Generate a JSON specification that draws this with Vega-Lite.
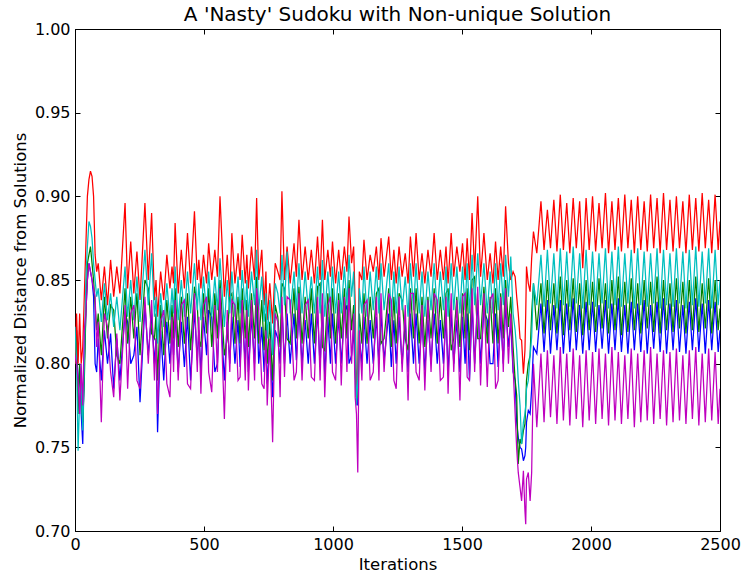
{
"$schema": "https://vega.github.io/schema/vega-lite/v6.json",
"width": 645, "height": 502,
"autosize": {"type": "none"},
"padding": {"left": 75, "top": 29, "right": 26, "bottom": 45},
"background": "white",
"title": {"text": "A 'Nasty' Sudoku with Non-unique Solution", "fontSize": 20, "font": "DejaVu Sans", "fontWeight": "normal", "color": "black", "offset": -4},
"config": {
  "view": {"stroke": "black", "strokeWidth": 1},
  "font": "DejaVu Sans",
  "axis": {"domainColor": "black", "tickColor": "black", "labelColor": "black", "titleColor": "black", "grid": false, "tickSize": -5, "labelPadding": 10, "labelFontSize": 16, "titleFontSize": 16.5, "titleFontWeight": "normal", "labelFlush": false, "font": "DejaVu Sans", "labelFont": "DejaVu Sans", "titleFont": "DejaVu Sans"}
},
"layer": [
{
"data": {"values": [
{"i":0,"b":0.8,"g":0.8,"r":0.8,"c":0.822,"m":0.805},
{"i":6,"b":0.82,"g":0.82,"r":0.83,"c":0.8,"m":0.8},
{"i":12,"b":0.78,"g":0.77,"r":0.8,"c":0.748,"m":0.79},
{"i":18,"b":0.8,"g":0.8,"r":0.83,"c":0.78,"m":0.77},
{"i":24,"b":0.77,"g":0.78,"r":0.8,"c":0.79,"m":0.8},
{"i":30,"b":0.752,"g":0.765,"r":0.81,"c":0.76,"m":0.775},
{"i":36,"b":0.8,"g":0.79,"r":0.84,"c":0.8,"m":0.82},
{"i":42,"b":0.83,"g":0.83,"r":0.87,"c":0.85,"m":0.83},
{"i":48,"b":0.85,"g":0.86,"r":0.9,"c":0.87,"m":0.85},
{"i":54,"b":0.86,"g":0.865,"r":0.91,"c":0.885,"m":0.86},
{"i":60,"b":0.855,"g":0.87,"r":0.915,"c":0.882,"m":0.855},
{"i":66,"b":0.85,"g":0.86,"r":0.912,"c":0.875,"m":0.85},
{"i":72,"b":0.84,"g":0.85,"r":0.9,"c":0.86,"m":0.845},
{"i":78,"b":0.8,"g":0.835,"r":0.865,"c":0.85,"m":0.84},
{"i":84,"b":0.795,"g":0.82,"r":0.855,"c":0.84,"m":0.81},
{"i":90,"b":0.815,"g":0.83,"r":0.86,"c":0.845,"m":0.825},
{"i":102,"b":0.79,"g":0.805,"r":0.838,"c":0.825,"m":0.765},
{"i":114,"b":0.82,"g":0.84,"r":0.858,"c":0.848,"m":0.83},
{"i":126,"b":0.8,"g":0.815,"r":0.835,"c":0.826,"m":0.822},
{"i":138,"b":0.818,"g":0.835,"r":0.862,"c":0.842,"m":0.795},
{"i":150,"b":0.785,"g":0.832,"r":0.84,"c":0.822,"m":0.78},
{"i":162,"b":0.815,"g":0.805,"r":0.858,"c":0.84,"m":0.818},
{"i":174,"b":0.79,"g":0.8,"r":0.842,"c":0.82,"m":0.778},
{"i":194,"b":0.83,"g":0.845,"r":0.896,"c":0.858,"m":0.835},
{"i":204,"b":0.825,"g":0.812,"r":0.845,"c":0.828,"m":0.785},
{"i":216,"b":0.8,"g":0.84,"r":0.873,"c":0.85,"m":0.83},
{"i":228,"b":0.805,"g":0.815,"r":0.842,"c":0.826,"m":0.835},
{"i":240,"b":0.822,"g":0.842,"r":0.867,"c":0.852,"m":0.79},
{"i":252,"b":0.777,"g":0.805,"r":0.838,"c":0.825,"m":0.785},
{"i":271,"b":0.835,"g":0.85,"r":0.896,"c":0.868,"m":0.84},
{"i":284,"b":0.805,"g":0.845,"r":0.85,"c":0.835,"m":0.8},
{"i":297,"b":0.83,"g":0.818,"r":0.89,"c":0.866,"m":0.838},
{"i":308,"b":0.8,"g":0.815,"r":0.838,"c":0.828,"m":0.79},
{"i":314,"b":0.815,"g":0.83,"r":0.85,"c":0.84,"m":0.815},
{"i":320,"b":0.759,"g":0.79,"r":0.828,"c":0.812,"m":0.77},
{"i":332,"b":0.82,"g":0.835,"r":0.855,"c":0.842,"m":0.825},
{"i":344,"b":0.79,"g":0.805,"r":0.838,"c":0.822,"m":0.832},
{"i":356,"b":0.825,"g":0.838,"r":0.865,"c":0.848,"m":0.788},
{"i":368,"b":0.8,"g":0.812,"r":0.845,"c":0.826,"m":0.78},
{"i":376,"b":0.82,"g":0.835,"r":0.858,"c":0.845,"m":0.828},
{"i":382,"b":0.805,"g":0.815,"r":0.848,"c":0.83,"m":0.795},
{"i":388,"b":0.83,"g":0.845,"r":0.884,"c":0.858,"m":0.838},
{"i":400,"b":0.795,"g":0.81,"r":0.842,"c":0.826,"m":0.79},
{"i":412,"b":0.825,"g":0.84,"r":0.868,"c":0.85,"m":0.835},
{"i":424,"b":0.798,"g":0.812,"r":0.845,"c":0.828,"m":0.838},
{"i":436,"b":0.828,"g":0.842,"r":0.878,"c":0.855,"m":0.788},
{"i":448,"b":0.79,"g":0.808,"r":0.848,"c":0.83,"m":0.785},
{"i":463,"b":0.832,"g":0.846,"r":0.891,"c":0.86,"m":0.842},
{"i":474,"b":0.802,"g":0.835,"r":0.85,"c":0.832,"m":0.795},
{"i":480,"b":0.82,"g":0.815,"r":0.862,"c":0.848,"m":0.828},
{"i":488,"b":0.795,"g":0.81,"r":0.845,"c":0.826,"m":0.782},
{"i":498,"b":0.828,"g":0.842,"r":0.865,"c":0.852,"m":0.835},
{"i":510,"b":0.805,"g":0.818,"r":0.848,"c":0.83,"m":0.84},
{"i":518,"b":0.832,"g":0.845,"r":0.872,"c":0.855,"m":0.795},
{"i":530,"b":0.828,"g":0.81,"r":0.85,"c":0.828,"m":0.783},
{"i":542,"b":0.795,"g":0.842,"r":0.868,"c":0.852,"m":0.835},
{"i":552,"b":0.8,"g":0.815,"r":0.852,"c":0.832,"m":0.795},
{"i":562,"b":0.838,"g":0.85,"r":0.9,"c":0.863,"m":0.845},
{"i":579,"b":0.79,"g":0.805,"r":0.84,"c":0.822,"m":0.767},
{"i":590,"b":0.825,"g":0.815,"r":0.865,"c":0.85,"m":0.832},
{"i":600,"b":0.8,"g":0.84,"r":0.84,"c":0.83,"m":0.795},
{"i":608,"b":0.828,"g":0.842,"r":0.878,"c":0.855,"m":0.838},
{"i":620,"b":0.8,"g":0.812,"r":0.848,"c":0.828,"m":0.835},
{"i":632,"b":0.826,"g":0.84,"r":0.866,"c":0.852,"m":0.79},
{"i":640,"b":0.798,"g":0.812,"r":0.85,"c":0.83,"m":0.792},
{"i":648,"b":0.83,"g":0.845,"r":0.877,"c":0.856,"m":0.838},
{"i":660,"b":0.8,"g":0.815,"r":0.848,"c":0.832,"m":0.79},
{"i":666,"b":0.825,"g":0.838,"r":0.865,"c":0.85,"m":0.832},
{"i":672,"b":0.795,"g":0.81,"r":0.845,"c":0.828,"m":0.784},
{"i":684,"b":0.828,"g":0.842,"r":0.87,"c":0.855,"m":0.838},
{"i":696,"b":0.8,"g":0.815,"r":0.85,"c":0.835,"m":0.79},
{"i":704,"b":0.84,"g":0.852,"r":0.899,"c":0.868,"m":0.845},
{"i":712,"b":0.8,"g":0.812,"r":0.85,"c":0.832,"m":0.832},
{"i":724,"b":0.822,"g":0.838,"r":0.868,"c":0.852,"m":0.788},
{"i":733,"b":0.795,"g":0.808,"r":0.835,"c":0.825,"m":0.785},
{"i":740,"b":0.815,"g":0.83,"r":0.855,"c":0.842,"m":0.82},
{"i":745,"b":0.788,"g":0.8,"r":0.826,"c":0.815,"m":0.775},
{"i":755,"b":0.812,"g":0.825,"r":0.848,"c":0.838,"m":0.815},
{"i":766,"b":0.78,"g":0.79,"r":0.824,"c":0.805,"m":0.753},
{"i":776,"b":0.82,"g":0.835,"r":0.86,"c":0.848,"m":0.83},
{"i":786,"b":0.815,"g":0.828,"r":0.855,"c":0.842,"m":0.825},
{"i":795,"b":0.8,"g":0.81,"r":0.85,"c":0.83,"m":0.78},
{"i":802,"b":0.835,"g":0.848,"r":0.903,"c":0.865,"m":0.84},
{"i":812,"b":0.8,"g":0.845,"r":0.85,"c":0.835,"m":0.792},
{"i":822,"b":0.83,"g":0.815,"r":0.87,"c":0.867,"m":0.84},
{"i":834,"b":0.8,"g":0.812,"r":0.848,"c":0.83,"m":0.838},
{"i":849,"b":0.83,"g":0.845,"r":0.872,"c":0.855,"m":0.79},
{"i":858,"b":0.802,"g":0.815,"r":0.852,"c":0.832,"m":0.795},
{"i":868,"b":0.832,"g":0.846,"r":0.886,"c":0.86,"m":0.842},
{"i":880,"b":0.8,"g":0.812,"r":0.85,"c":0.83,"m":0.79},
{"i":892,"b":0.826,"g":0.84,"r":0.87,"c":0.855,"m":0.835},
{"i":904,"b":0.8,"g":0.815,"r":0.85,"c":0.832,"m":0.838},
{"i":916,"b":0.83,"g":0.845,"r":0.868,"c":0.852,"m":0.792},
{"i":928,"b":0.8,"g":0.812,"r":0.848,"c":0.83,"m":0.79},
{"i":940,"b":0.832,"g":0.846,"r":0.876,"c":0.858,"m":0.84},
{"i":950,"b":0.798,"g":0.848,"r":0.85,"c":0.83,"m":0.79},
{"i":959,"b":0.835,"g":0.81,"r":0.886,"c":0.862,"m":0.842},
{"i":968,"b":0.793,"g":0.808,"r":0.85,"c":0.828,"m":0.78},
{"i":980,"b":0.828,"g":0.842,"r":0.868,"c":0.855,"m":0.835},
{"i":990,"b":0.8,"g":0.815,"r":0.852,"c":0.832,"m":0.84},
{"i":998,"b":0.83,"g":0.845,"r":0.873,"c":0.858,"m":0.795},
{"i":1010,"b":0.8,"g":0.812,"r":0.848,"c":0.83,"m":0.79},
{"i":1022,"b":0.828,"g":0.842,"r":0.868,"c":0.855,"m":0.838},
{"i":1032,"b":0.8,"g":0.815,"r":0.85,"c":0.83,"m":0.787},
{"i":1044,"b":0.83,"g":0.845,"r":0.87,"c":0.858,"m":0.84},
{"i":1054,"b":0.835,"g":0.815,"r":0.855,"c":0.835,"m":0.795},
{"i":1062,"b":0.8,"g":0.85,"r":0.888,"c":0.865,"m":0.845},
{"i":1072,"b":0.805,"g":0.82,"r":0.86,"c":0.84,"m":0.8},
{"i":1080,"b":0.82,"g":0.835,"r":0.87,"c":0.855,"m":0.83},
{"i":1086,"b":0.795,"g":0.805,"r":0.835,"c":0.82,"m":0.78},
{"i":1091,"b":0.78,"g":0.78,"r":0.78,"c":0.775,"m":0.77},
{"i":1096,"b":0.775,"g":0.78,"r":0.8,"c":0.79,"m":0.735},
{"i":1102,"b":0.815,"g":0.83,"r":0.855,"c":0.845,"m":0.82},
{"i":1112,"b":0.8,"g":0.812,"r":0.85,"c":0.83,"m":0.79},
{"i":1120,"b":0.828,"g":0.842,"r":0.874,"c":0.858,"m":0.835},
{"i":1132,"b":0.8,"g":0.812,"r":0.85,"c":0.828,"m":0.838},
{"i":1144,"b":0.826,"g":0.84,"r":0.865,"c":0.855,"m":0.79},
{"i":1156,"b":0.8,"g":0.815,"r":0.855,"c":0.832,"m":0.795},
{"i":1168,"b":0.828,"g":0.842,"r":0.87,"c":0.858,"m":0.84},
{"i":1178,"b":0.8,"g":0.845,"r":0.85,"c":0.83,"m":0.79},
{"i":1186,"b":0.83,"g":0.812,"r":0.875,"c":0.86,"m":0.842},
{"i":1198,"b":0.802,"g":0.815,"r":0.852,"c":0.832,"m":0.795},
{"i":1216,"b":0.83,"g":0.845,"r":0.876,"c":0.86,"m":0.842},
{"i":1226,"b":0.798,"g":0.81,"r":0.85,"c":0.828,"m":0.838},
{"i":1236,"b":0.826,"g":0.84,"r":0.868,"c":0.855,"m":0.79},
{"i":1245,"b":0.8,"g":0.812,"r":0.848,"c":0.83,"m":0.785},
{"i":1256,"b":0.828,"g":0.842,"r":0.87,"c":0.858,"m":0.84},
{"i":1268,"b":0.8,"g":0.838,"r":0.852,"c":0.832,"m":0.795},
{"i":1280,"b":0.825,"g":0.815,"r":0.866,"c":0.852,"m":0.835},
{"i":1291,"b":0.795,"g":0.808,"r":0.848,"c":0.828,"m":0.778},
{"i":1300,"b":0.83,"g":0.845,"r":0.876,"c":0.86,"m":0.842},
{"i":1312,"b":0.8,"g":0.815,"r":0.852,"c":0.832,"m":0.842},
{"i":1322,"b":0.83,"g":0.845,"r":0.878,"c":0.86,"m":0.795},
{"i":1334,"b":0.8,"g":0.812,"r":0.85,"c":0.83,"m":0.79},
{"i":1345,"b":0.826,"g":0.84,"r":0.866,"c":0.855,"m":0.835},
{"i":1356,"b":0.796,"g":0.81,"r":0.848,"c":0.828,"m":0.784},
{"i":1368,"b":0.826,"g":0.84,"r":0.868,"c":0.855,"m":0.838},
{"i":1380,"b":0.8,"g":0.815,"r":0.852,"c":0.832,"m":0.795},
{"i":1392,"b":0.83,"g":0.845,"r":0.878,"c":0.86,"m":0.842},
{"i":1404,"b":0.8,"g":0.812,"r":0.85,"c":0.83,"m":0.838},
{"i":1416,"b":0.826,"g":0.84,"r":0.868,"c":0.855,"m":0.79},
{"i":1428,"b":0.8,"g":0.815,"r":0.85,"c":0.832,"m":0.792},
{"i":1438,"b":0.828,"g":0.842,"r":0.87,"c":0.858,"m":0.84},
{"i":1446,"b":0.795,"g":0.845,"r":0.848,"c":0.828,"m":0.782},
{"i":1458,"b":0.83,"g":0.808,"r":0.878,"c":0.86,"m":0.842},
{"i":1468,"b":0.8,"g":0.815,"r":0.852,"c":0.832,"m":0.795},
{"i":1480,"b":0.826,"g":0.84,"r":0.87,"c":0.858,"m":0.838},
{"i":1492,"b":0.795,"g":0.81,"r":0.855,"c":0.83,"m":0.778},
{"i":1502,"b":0.828,"g":0.842,"r":0.872,"c":0.858,"m":0.84},
{"i":1512,"b":0.8,"g":0.815,"r":0.85,"c":0.832,"m":0.842},
{"i":1520,"b":0.83,"g":0.845,"r":0.875,"c":0.86,"m":0.792},
{"i":1529,"b":0.79,"g":0.808,"r":0.85,"c":0.83,"m":0.79},
{"i":1539,"b":0.835,"g":0.85,"r":0.89,"c":0.865,"m":0.845},
{"i":1549,"b":0.8,"g":0.852,"r":0.855,"c":0.835,"m":0.795},
{"i":1561,"b":0.838,"g":0.815,"r":0.9,"c":0.866,"m":0.846},
{"i":1572,"b":0.8,"g":0.815,"r":0.852,"c":0.835,"m":0.787},
{"i":1585,"b":0.832,"g":0.846,"r":0.878,"c":0.86,"m":0.842},
{"i":1598,"b":0.826,"g":0.812,"r":0.85,"c":0.83,"m":0.786},
{"i":1609,"b":0.8,"g":0.84,"r":0.866,"c":0.855,"m":0.838},
{"i":1620,"b":0.8,"g":0.812,"r":0.848,"c":0.83,"m":0.842},
{"i":1630,"b":0.83,"g":0.845,"r":0.873,"c":0.86,"m":0.785},
{"i":1640,"b":0.798,"g":0.812,"r":0.85,"c":0.832,"m":0.79},
{"i":1650,"b":0.828,"g":0.842,"r":0.87,"c":0.86,"m":0.84},
{"i":1660,"b":0.8,"g":0.815,"r":0.852,"c":0.835,"m":0.795},
{"i":1669,"b":0.835,"g":0.85,"r":0.894,"c":0.865,"m":0.845},
{"i":1680,"b":0.81,"g":0.822,"r":0.86,"c":0.84,"m":0.8},
{"i":1689,"b":0.825,"g":0.84,"r":0.85,"c":0.864,"m":0.83},
{"i":1698,"b":0.795,"g":0.81,"r":0.855,"c":0.83,"m":0.798},
{"i":1706,"b":0.79,"g":0.79,"r":0.852,"c":0.82,"m":0.77},
{"i":1712,"b":0.765,"g":0.781,"r":0.84,"c":0.808,"m":0.749},
{"i":1718,"b":0.756,"g":0.74,"r":0.83,"c":0.79,"m":0.735},
{"i":1725,"b":0.75,"g":0.755,"r":0.815,"c":0.775,"m":0.726},
{"i":1731,"b":0.749,"g":0.752,"r":0.814,"c":0.752,"m":0.718},
{"i":1738,"b":0.742,"g":0.76,"r":0.794,"c":0.765,"m":0.736},
{"i":1744,"b":0.745,"g":0.764,"r":0.808,"c":0.77,"m":0.712},
{"i":1747,"b":0.75,"g":0.775,"r":0.83,"c":0.775,"m":0.704},
{"i":1750,"b":0.765,"g":0.79,"r":0.858,"c":0.785,"m":0.731},
{"i":1757,"b":0.772,"g":0.8,"r":0.848,"c":0.79,"m":0.735},
{"i":1764,"b":0.77,"g":0.805,"r":0.843,"c":0.805,"m":0.718},
{"i":1770,"b":0.785,"g":0.83,"r":0.863,"c":0.816,"m":0.735},
{"i":1777,"b":0.81,"g":0.848,"r":0.879,"c":0.848,"m":0.8},
{"i":1790,"b":0.806,"g":0.82,"r":0.866,"c":0.835,"m":0.762},
{"i":1806,"b":0.836,"g":0.848,"r":0.897,"c":0.865,"m":0.806},
{"i":1818,"b":0.807,"g":0.818,"r":0.868,"c":0.834,"m":0.765},
{"i":1831,"b":0.838,"g":0.85,"r":0.892,"c":0.868,"m":0.808},
{"i":1843,"b":0.806,"g":0.82,"r":0.869,"c":0.836,"m":0.768},
{"i":1856,"b":0.835,"g":0.848,"r":0.898,"c":0.866,"m":0.805},
{"i":1868,"b":0.808,"g":0.818,"r":0.867,"c":0.833,"m":0.764},
{"i":1881,"b":0.838,"g":0.852,"r":0.901,"c":0.869,"m":0.81},
{"i":1893,"b":0.806,"g":0.817,"r":0.868,"c":0.835,"m":0.766},
{"i":1906,"b":0.836,"g":0.85,"r":0.896,"c":0.867,"m":0.806},
{"i":1918,"b":0.807,"g":0.82,"r":0.866,"c":0.834,"m":0.763},
{"i":1931,"b":0.839,"g":0.851,"r":0.899,"c":0.87,"m":0.809},
{"i":1943,"b":0.808,"g":0.819,"r":0.869,"c":0.836,"m":0.767},
{"i":1956,"b":0.835,"g":0.848,"r":0.897,"c":0.866,"m":0.805},
{"i":1968,"b":0.806,"g":0.817,"r":0.857,"c":0.833,"m":0.762},
{"i":1981,"b":0.837,"g":0.85,"r":0.899,"c":0.868,"m":0.808},
{"i":1993,"b":0.808,"g":0.82,"r":0.868,"c":0.835,"m":0.766},
{"i":2006,"b":0.837,"g":0.849,"r":0.9,"c":0.867,"m":0.807},
{"i":2018,"b":0.807,"g":0.819,"r":0.867,"c":0.834,"m":0.764},
{"i":2031,"b":0.835,"g":0.851,"r":0.896,"c":0.866,"m":0.809},
{"i":2043,"b":0.809,"g":0.821,"r":0.869,"c":0.836,"m":0.767},
{"i":2056,"b":0.838,"g":0.848,"r":0.902,"c":0.869,"m":0.806},
{"i":2068,"b":0.806,"g":0.818,"r":0.866,"c":0.833,"m":0.763},
{"i":2081,"b":0.836,"g":0.85,"r":0.897,"c":0.867,"m":0.81},
{"i":2093,"b":0.808,"g":0.82,"r":0.868,"c":0.835,"m":0.766},
{"i":2106,"b":0.839,"g":0.852,"r":0.899,"c":0.87,"m":0.807},
{"i":2118,"b":0.807,"g":0.817,"r":0.867,"c":0.834,"m":0.764},
{"i":2131,"b":0.835,"g":0.849,"r":0.901,"c":0.866,"m":0.805},
{"i":2143,"b":0.806,"g":0.819,"r":0.869,"c":0.836,"m":0.767},
{"i":2156,"b":0.837,"g":0.851,"r":0.898,"c":0.868,"m":0.809},
{"i":2168,"b":0.808,"g":0.82,"r":0.866,"c":0.833,"m":0.762},
{"i":2181,"b":0.836,"g":0.848,"r":0.9,"c":0.869,"m":0.806},
{"i":2193,"b":0.807,"g":0.818,"r":0.868,"c":0.835,"m":0.765},
{"i":2206,"b":0.838,"g":0.85,"r":0.897,"c":0.867,"m":0.808},
{"i":2218,"b":0.806,"g":0.821,"r":0.867,"c":0.834,"m":0.766},
{"i":2231,"b":0.835,"g":0.849,"r":0.901,"c":0.866,"m":0.81},
{"i":2243,"b":0.809,"g":0.819,"r":0.869,"c":0.836,"m":0.764},
{"i":2256,"b":0.837,"g":0.852,"r":0.899,"c":0.869,"m":0.806},
{"i":2268,"b":0.807,"g":0.818,"r":0.866,"c":0.833,"m":0.767},
{"i":2281,"b":0.839,"g":0.85,"r":0.902,"c":0.868,"m":0.808},
{"i":2293,"b":0.806,"g":0.82,"r":0.868,"c":0.835,"m":0.763},
{"i":2306,"b":0.836,"g":0.848,"r":0.898,"c":0.866,"m":0.807},
{"i":2318,"b":0.808,"g":0.819,"r":0.867,"c":0.834,"m":0.765},
{"i":2331,"b":0.838,"g":0.851,"r":0.9,"c":0.869,"m":0.809},
{"i":2343,"b":0.807,"g":0.821,"r":0.869,"c":0.836,"m":0.766},
{"i":2356,"b":0.835,"g":0.849,"r":0.897,"c":0.867,"m":0.805},
{"i":2368,"b":0.806,"g":0.818,"r":0.866,"c":0.833,"m":0.764},
{"i":2381,"b":0.837,"g":0.85,"r":0.901,"c":0.868,"m":0.808},
{"i":2393,"b":0.808,"g":0.82,"r":0.868,"c":0.835,"m":0.767},
{"i":2406,"b":0.839,"g":0.852,"r":0.899,"c":0.87,"m":0.81},
{"i":2418,"b":0.807,"g":0.819,"r":0.867,"c":0.834,"m":0.763},
{"i":2431,"b":0.836,"g":0.848,"r":0.902,"c":0.867,"m":0.806},
{"i":2443,"b":0.806,"g":0.821,"r":0.869,"c":0.836,"m":0.765},
{"i":2456,"b":0.838,"g":0.851,"r":0.898,"c":0.869,"m":0.809},
{"i":2468,"b":0.808,"g":0.818,"r":0.866,"c":0.833,"m":0.766},
{"i":2481,"b":0.837,"g":0.85,"r":0.901,"c":0.868,"m":0.807},
{"i":2493,"b":0.807,"g":0.82,"r":0.868,"c":0.835,"m":0.764},
{"i":2500,"b":0.82,"g":0.833,"r":0.885,"c":0.85,"m":0.785}
]},
"transform": [{"fold": ["b", "g", "r", "c", "m"], "as": ["k", "v"]}],
"mark": {"type": "line", "strokeWidth": 1.25, "clip": true},
"encoding": {
  "x": {"field": "i", "type": "quantitative", "scale": {"domain": [0, 2500], "nice": false, "zero": false},
        "axis": {"orient": "bottom", "values": [0, 500, 1000, 1500, 2000, 2500], "format": "d", "title": "Iterations", "titlePadding": 4}},
  "y": {"field": "v", "type": "quantitative", "scale": {"domain": [0.7, 1.0], "nice": false, "zero": false},
        "axis": {"orient": "left", "values": [0.7, 0.75, 0.8, 0.85, 0.9, 0.95, 1.0], "format": ".2f", "title": "Normalized Distance from Solutions", "titlePadding": 6}},
  "color": {"field": "k", "type": "nominal", "scale": {"domain": ["b", "g", "r", "c", "m"], "range": ["#0000ff", "#008000", "#ff0000", "#00bfbf", "#bf00bf"]}, "legend": null}
}
},
{
"data": {"values": [{"i": 0, "v": 0.7}]},
"mark": {"type": "point", "opacity": 0},
"encoding": {
  "x": {"field": "i", "type": "quantitative", "scale": {"domain": [0, 2500], "nice": false, "zero": false},
        "axis": {"orient": "top", "values": [0, 500, 1000, 1500, 2000, 2500], "labels": false, "title": null}},
  "y": {"field": "v", "type": "quantitative", "scale": {"domain": [0.7, 1.0], "nice": false, "zero": false},
        "axis": {"orient": "right", "values": [0.7, 0.75, 0.8, 0.85, 0.9, 0.95, 1.0], "labels": false, "title": null}}
}
}
],
"resolve": {"axis": {"x": "independent", "y": "independent"}}
}
